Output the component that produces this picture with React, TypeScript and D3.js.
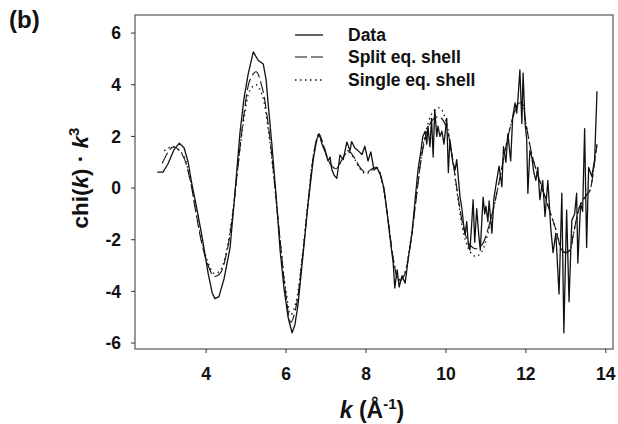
import React from "react";
import * as d3 from "d3";

// ---- Data ----
const dataK = [2.78, 2.92, 3.05, 3.2, 3.33, 3.45, 3.55, 3.65, 3.78, 3.9, 4.05, 4.15, 4.22, 4.32, 4.45, 4.6, 4.72, 4.85, 4.95, 5.05, 5.18, 5.3, 5.43, 5.5, 5.55, 5.65, 5.75, 5.85, 5.95, 6.05, 6.15, 6.22, 6.3, 6.43, 6.55, 6.68, 6.77, 6.83, 6.9, 6.98, 7.05, 7.1, 7.14, 7.2, 7.27, 7.35, 7.43, 7.52, 7.6, 7.64, 7.72, 7.8, 7.9, 7.97, 8.05, 8.12, 8.2, 8.27, 8.35, 8.45, 8.52, 8.6, 8.68, 8.72, 8.78, 8.83, 8.9, 8.98, 9.05, 9.15, 9.22, 9.3, 9.38, 9.42, 9.48, 9.52, 9.55, 9.6, 9.64, 9.68, 9.72, 9.77, 9.8, 9.85, 9.9, 9.95, 10.02, 10.06, 10.1, 10.17, 10.23, 10.27, 10.35, 10.4, 10.44, 10.48, 10.52, 10.56, 10.6, 10.64, 10.68, 10.72, 10.77, 10.82, 10.86, 10.9, 10.93, 10.97, 11.0, 11.05, 11.08, 11.15, 11.2, 11.27, 11.33, 11.4, 11.44, 11.5, 11.55, 11.62, 11.67, 11.73, 11.77, 11.8, 11.85, 11.9, 11.93, 11.98, 12.02, 12.05, 12.1, 12.15, 12.2, 12.25, 12.3, 12.35, 12.42, 12.48, 12.55, 12.62, 12.68, 12.75, 12.83, 12.9, 12.95, 13.02, 13.08, 13.15, 13.22, 13.27, 13.3, 13.37, 13.42, 13.47, 13.52, 13.57, 13.65, 13.72, 13.78];
const dataChi = [0.62, 0.62, 0.95, 1.5, 1.74, 1.55, 1.0, 0.1, -0.9, -1.9, -3.3, -4.05, -4.28, -4.2, -3.5, -2.3, -0.2, 2.2, 3.5, 4.4, 5.27, 4.95, 4.8, 4.2, 3.3, 1.6, -0.3, -2.4, -3.9, -5.0, -5.6, -5.3, -4.5, -2.5, -0.6, 1.1, 1.9, 2.09, 1.7, 1.4, 1.05, 1.2, 0.75, 0.5, 0.38, 1.28, 1.1, 1.78, 1.45, 1.8, 1.55, 1.45, 1.3, 1.62, 1.05, 1.4, 0.7, 0.8, 0.55, 0.0, -0.85, -1.9, -2.9, -3.87, -3.17, -3.83, -3.4, -3.68, -2.8, -1.75, -0.6, 0.7, 1.5, 2.0, 2.2, 1.7, 2.4, 1.6, 2.7, 1.2, 3.05, 2.0, 2.4, 2.0, 2.2, 1.7, 2.7, 0.6, 1.85, 1.0, 0.7, 1.1, -0.3, -0.8, -1.4, -1.8, -1.3, -2.2, -2.4, -1.5, -0.45, -2.1, -0.8, -1.8, -2.4, -1.2, -0.35, -1.0, -0.7, -1.3, -0.5, -1.75, -0.4, 0.3, 0.85, 0.05, 1.6, 1.0, 2.1, 1.05, 2.75, 3.3, 2.9, 3.4, 4.57, 2.5, 4.45, 2.5, 1.9, -0.2, 1.45, 1.2, 0.6, 0.3, 0.8, -0.45, 0.3, -1.1, 0.3, -1.5, -2.5, -1.75, -4.1, -0.2, -5.6, -0.85, -4.4, -1.25, -1.0, -0.2, -2.9, -0.6, -0.9, 2.3, -2.3, 0.8, 0.45, 1.1, 3.75];

const splitK = [2.9, 3.05, 3.18, 3.3, 3.45, 3.6, 3.75, 3.9, 4.05, 4.2, 4.35, 4.5, 4.65, 4.8, 4.95, 5.1, 5.25, 5.4, 5.55, 5.7, 5.85, 6.0, 6.12, 6.25, 6.4, 6.55, 6.7, 6.82, 6.95, 7.1, 7.25, 7.4, 7.55, 7.7, 7.85, 8.0, 8.15, 8.28, 8.4, 8.55, 8.7, 8.82, 8.95, 9.1, 9.25, 9.4, 9.55, 9.7, 9.85, 10.0, 10.15, 10.3, 10.45, 10.6, 10.75, 10.9, 11.05, 11.2, 11.35, 11.5, 11.65, 11.8, 11.9, 12.0, 12.15, 12.3, 12.45, 12.6, 12.75, 12.9, 13.0, 13.1, 13.2, 13.35, 13.5, 13.6, 13.7, 13.78];
const splitChi = [0.95, 1.4, 1.6, 1.5, 1.15, 0.3, -1.0, -2.2, -3.0, -3.42, -3.3, -2.6, -1.2, 0.9, 2.9, 4.2, 4.5, 3.9, 2.5, 0.4, -2.0, -4.2, -5.2, -4.6, -2.8, -0.6, 1.4, 2.1, 1.6, 0.95, 0.75, 1.1, 1.45, 1.2, 0.8, 0.6, 0.75, 0.8, 0.3, -1.2, -2.9, -3.6, -3.4, -2.3, -0.5, 1.3, 2.3, 2.7, 2.75, 2.4, 1.3, -0.3, -1.6, -2.2, -2.35, -2.2, -1.6, -0.7, 0.4, 1.6, 2.6, 3.25, 3.3, 2.5, 1.3, 0.5, -0.2, -0.9, -1.6, -2.4, -2.5, -2.4, -1.7, -0.7, -0.3, -0.1, 0.8, 1.7];

const singleK = [2.95, 3.15, 3.3, 3.45, 3.6, 3.75, 3.9, 4.05, 4.2, 4.35, 4.5, 4.65, 4.8, 4.95, 5.1, 5.25, 5.4, 5.55, 5.7, 5.85, 6.0, 6.12, 6.25, 6.4, 6.55, 6.7, 6.82, 6.95, 7.1, 7.25, 7.4, 7.55, 7.7, 7.85, 8.0, 8.15, 8.28, 8.4, 8.55, 8.7, 8.82, 8.95, 9.1, 9.25, 9.4, 9.55, 9.7, 9.85, 10.0, 10.15, 10.3, 10.45, 10.6, 10.75, 10.9, 11.05, 11.2, 11.35, 11.5, 11.65, 11.8, 11.9, 12.0, 12.15, 12.3, 12.45, 12.6, 12.75, 12.9, 13.0, 13.1, 13.2, 13.35, 13.5, 13.6, 13.7, 13.78];
const singleChi = [1.45, 1.6, 1.5, 1.2, 0.35, -0.9, -2.1, -2.9, -3.3, -3.2, -2.5, -1.1, 0.9, 2.7, 3.8, 4.0, 3.6, 2.3, 0.3, -2.0, -4.0, -4.9, -4.4, -2.7, -0.5, 1.4, 2.0, 1.55, 0.95, 0.75, 1.1, 1.4, 1.15, 0.75, 0.55, 0.7, 0.75, 0.25, -1.2, -2.9, -3.55, -3.35, -2.2, -0.4, 1.4, 2.5, 3.0, 3.1, 2.6, 1.3, -0.4, -1.8, -2.45, -2.65, -2.45, -1.75, -0.75, 0.4, 1.6, 2.6, 3.2, 3.25, 2.5, 1.3, 0.5, -0.2, -0.9, -1.6, -2.4, -2.5, -2.4, -1.7, -0.7, -0.3, -0.1, 0.8, 1.7];

const xTicks = [4, 6, 8, 10, 12, 14];
const yTicks = [-6, -4, -2, 0, 2, 4, 6];
const legendLabels = ["Data", "Split eq. shell", "Single eq. shell"];

const W = 618;
const H = 424;
const left = 135, right = 613, top = 15, bottom = 349;
const FONT = "'Liberation Sans', Arial, Helvetica, sans-serif";

export default function App() {
  const x = d3.scaleLinear().domain([2.22, 14.18]).range([left, right]);
  const y = d3.scaleLinear().domain([-6.23, 6.7]).range([bottom, top]);

  const mk = (ks: number[], vs: number[]) => ks.map((k, i) => [k, vs[i]] as [number, number]);
  const lineData = d3.line<[number, number]>().x(d => x(d[0])).y(d => y(d[1])).curve(d3.curveLinear);
  const fitLine = d3.line<[number, number]>().x(d => x(d[0])).y(d => y(d[1])).curve(d3.curveCatmullRom.alpha(0.5));

  const legendY = [35, 57, 80];
  const legendStyles = [
    { dash: "none", w: 1.3 },
    { dash: "12,4", w: 1.1 },
    { dash: "1.5,3.5", w: 1.3 },
  ];

  return (
    <svg width={W} height={H} style={{ position: "absolute", left: 0, top: 0, background: "#fff" }} fontFamily={FONT}>
      <rect x={0} y={0} width={W} height={H} fill="#fff" />
      <rect x={left} y={top} width={right - left} height={bottom - top} fill="none" stroke="#555" strokeWidth={1.2} />
      {yTicks.map(t => (
        <g key={"y" + t}>
          <line x1={left - 4} x2={left} y1={y(t)} y2={y(t)} stroke="#333" strokeWidth={1} />
          <text x={121} y={y(t)} dy="0.36em" textAnchor="end" fontSize={17.5} fontWeight="bold" fill="#111">{t}</text>
        </g>
      ))}
      {xTicks.map(t => (
        <g key={"x" + t}>
          <line x1={x(t)} x2={x(t)} y1={bottom} y2={bottom + 4} stroke="#333" strokeWidth={1} />
          <text x={x(t)} y={380} textAnchor="middle" fontSize={17.5} fontWeight="bold" fill="#111">{t}</text>
        </g>
      ))}
      <path d={fitLine(mk(singleK, singleChi)) || ""} fill="none" stroke="#111" strokeWidth={1.3} strokeDasharray="1.5,3.5" />
      <path d={fitLine(mk(splitK, splitChi)) || ""} fill="none" stroke="#111" strokeWidth={1.1} strokeDasharray="12,4" />
      <path d={lineData(mk(dataK, dataChi)) || ""} fill="none" stroke="#111" strokeWidth={1.3} strokeLinejoin="round" />
      {legendLabels.map((lab, i) => (
        <g key={lab}>
          <line x1={295} x2={323} y1={legendY[i]} y2={legendY[i]} stroke="#111" strokeWidth={legendStyles[i].w} strokeDasharray={legendStyles[i].dash} />
          <text x={348} y={legendY[i]} dy="0.36em" fontSize={17.5} fontWeight="bold" fill="#111">{lab}</text>
        </g>
      ))}
      <text x={9} y={28} fontSize={24} fontWeight="bold" fill="#111">(b)</text>
      <text x={372} y={418} textAnchor="middle" fontSize={23} fontWeight="bold" fill="#111">
        <tspan fontStyle="italic">k</tspan>
        <tspan> (Å</tspan>
        <tspan dy={-9} fontSize={15}>-1</tspan>
        <tspan dy={9}>)</tspan>
      </text>
      <text transform="translate(88,178) rotate(-90)" textAnchor="middle" fontSize={22.5} fontWeight="bold" fill="#111">
        <tspan>chi(</tspan>
        <tspan fontStyle="italic">k</tspan>
        <tspan>) · </tspan>
        <tspan fontStyle="italic">k</tspan>
        <tspan dy={-9} fontSize={15}>3</tspan>
      </text>
    </svg>
  );
}
